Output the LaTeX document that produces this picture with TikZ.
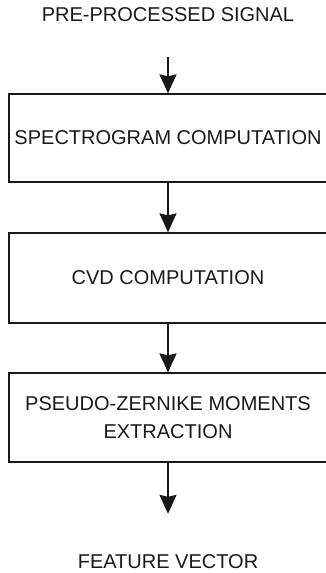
\documentclass[tikz,border=0pt]{standalone}
\usepackage{fontspec}
\setmainfont{Liberation Sans}
\usetikzlibrary{arrows.meta, positioning}

\begin{document}
\begin{tikzpicture}[x=1pt, y=1pt,
    stagebox/.style={draw=black!90, line width=1.2pt, minimum width=318pt, inner sep=0pt,
      align=center, text=black!90, font=\fontsize{20}{28}\selectfont},
    endlabel/.style={inner sep=0pt, text=black!90, font=\fontsize{20}{24}\selectfont},
    flow/.style={draw=black!90, line width=2pt, -{Stealth[width=17pt, length=19pt, inset=2pt]}}]
  \useasboundingbox (0,0) rectangle (325,573);
  % input and output texts
  \node[endlabel, anchor=base] (signal) at (168,551) {PRE-PROCESSED SIGNAL};
  \node[endlabel, anchor=base] (feature) at (168,5) {FEATURE VECTOR};
  % processing stages
  \node[stagebox, minimum height=88pt] (spectro) at (168,435) {SPECTROGRAM COMPUTATION};
  \node[stagebox, minimum height=90pt] (cvd) at (168,295) {CVD COMPUTATION};
  \node[stagebox, minimum height=89pt] (zernike) at (168,155.5) {PSEUDO-ZERNIKE MOMENTS\\EXTRACTION};
  % arrows
  \draw[flow, shorten <=35pt] (signal) -- (spectro);
  \draw[flow] (spectro) -- (cvd);
  \draw[flow] (cvd) -- (zernike);
  \draw[flow, shorten >=40pt] (zernike) -- (feature);
\end{tikzpicture}
\end{document}
